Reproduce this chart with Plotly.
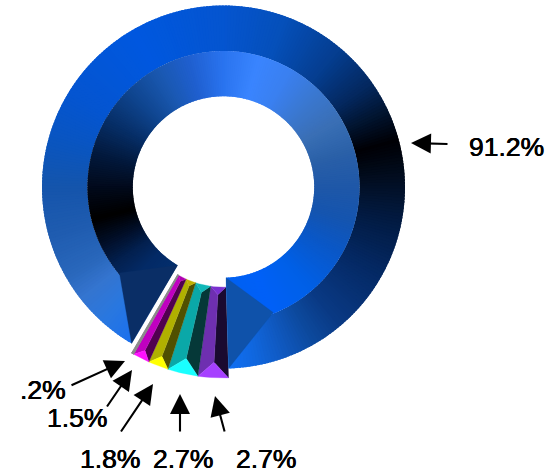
import numpy as np
import plotly.graph_objects as go

# Share of each slice, in clockwise drawing order starting at the main slice's far end
slice_names = ["Purple", "Cyan", "Yellow", "Magenta", "Grey", "Blue"]
slice_shares = [2.7, 2.7, 1.8, 1.5, 0.2, 91.2]

WIDTH, HEIGHT = 558, 474
CX, CY = 223.5, 187.0
R_IN, R_MID, R_OUT = 90.7, 136.0, 181.5
START_ANGLE = 178.4      # clockwise from 12 o'clock
SMALL_SHIFT = 9.5        # small slices are pulled straight down
HIP_ANGLE = 20.0         # inset of the main slice's ridge at each end

# Conic shading of the two bevels of the main slice (angle, colour)
outer_stops = [(210, "#1a70f0"), (222, "#2a78e0"), (232, "#3575d0"), (240, "#2a68bc"),
               (255, "#1f5cb0"), (270, "#1555ac"), (285, "#0a55c0"), (300, "#0555d0"),
               (330, "#0058e0"), (360, "#0555d0"), (380, "#0650ba"), (400, "#053e90"),
               (415, "#04285f"), (425, "#021530"), (435, "#000005"), (445, "#020c1c"),
               (460, "#021a40"), (480, "#052a66"), (500, "#0a3a85"), (510, "#0d4a9e"),
               (520, "#1059c0"), (530, "#1068e0"), (539, "#1070f5")]
inner_stops = [(210, "#03306f"), (225, "#032a66"), (235, "#03204f"), (245, "#020f28"),
               (256, "#000000"), (270, "#020a1c"), (285, "#031a3e"), (300, "#072f68"),
               (315, "#0f458f"), (330, "#1a58b0"), (345, "#2060d0"), (360, "#2a74f0"),
               (375, "#3a85ff"), (390, "#3a80f0"), (405, "#3a78d0"), (420, "#3a6fb5"),
               (435, "#2a60a8"), (450, "#1f58a8"), (465, "#1555b0"), (480, "#0a58c8"),
               (500, "#0060e8"), (519, "#0060f8"), (539, "#0060f0")]
blue_end_faces = {"start": "#0a2e66", "end": "#0f52aa"}

# Roof faces of the small slices: high-angle side, low-angle side, inner end, outer end
small_faces = {
    "Purple": ("#6e2fb0", "#1a0a30", "#7a30d0", "#a640ff"),
    "Cyan": ("#0aa8a8", "#053838", "#10b8b8", "#19ffff"),
    "Yellow": ("#b0b000", "#505000", "#c0b000", "#ffff00"),
    "Magenta": ("#c000c0", "#500050", "#b000b0", "#ff10ff"),
    "Grey": ("#8a8a8a", "#8a8a8a", "#8a8a8a", "#8a8a8a"),
}

# Callout arrows: label value, label centre, tail, head
callouts = [
    (91.2, (506, 147), (449, 144), (411, 143)),
    (0.2, (43, 390), (70, 386), (125, 361)),
    (1.5, (77, 418), (106, 408), (132, 370)),
    (1.8, (110, 459), (120, 433), (153, 384)),
    (2.7, (183, 459), (180, 433), (180, 394)),
    (2.7, (265.5, 459), (225, 433), (215, 396)),
]


def to_xy(theta, r, cy=CY):
    t = np.radians(theta)
    return CX + r * np.sin(t), cy - r * np.cos(t)


def hex_rgb(c):
    return np.array([int(c[i:i + 2], 16) for i in (1, 3, 5)], float)


def shade(stops, theta):
    a = [s[0] for s in stops]
    rgb = np.array([hex_rgb(s[1]) for s in stops])
    v = [np.interp(theta, a, rgb[:, k]) for k in range(3)]
    return "rgb(%d,%d,%d)" % tuple(v)


def polygon(fig, xs, ys, color, lw=0.0):
    fig.add_trace(go.Scatter(
        x=list(xs) + [xs[0]], y=list(ys) + [ys[0]], mode="lines", fill="toself",
        fillcolor=color, line=dict(color=color, width=lw), hoverinfo="skip",
        showlegend=False))


def arc(t0, t1, r, cy=CY, n=6):
    return to_xy(np.linspace(t0, t1, n), r, cy)


def band(fig, t0, t1, r0, r1, stops, step=1.0, overlap=0.7):
    # Steps are painted over each other so no seam shows between neighbours
    edges = np.arange(t0, t1, step).tolist() + [t1]
    for a, b in zip(edges[:-1], edges[1:]):
        far = min(b + overlap, t1)
        x0, y0 = arc(a, far, r0, n=3)
        x1, y1 = arc(far, a, r1, n=3)
        polygon(fig, list(x0) + list(x1), list(y0) + list(y1), shade(stops, (a + b) / 2))


def main_slice(fig, t0, t1):
    band(fig, t0, t1, R_MID, R_OUT, outer_stops)
    band(fig, t0, t1, R_IN, R_MID, inner_stops)
    for end, tip, key in ((t0, t0 + HIP_ANGLE, "start"), (t1, t1 - HIP_ANGLE, "end")):
        x = [to_xy(end, R_IN)[0], to_xy(tip, R_MID - 1)[0], to_xy(end, R_OUT)[0]]
        y = [to_xy(end, R_IN)[1], to_xy(tip, R_MID - 1)[1], to_xy(end, R_OUT)[1]]
        polygon(fig, x, y, blue_end_faces[key], lw=0.3)


def small_slice(fig, t0, t1, faces):
    cy = CY + SMALL_SHIFT
    mid = (t0 + t1) / 2
    half = np.radians((t1 - t0) / 2)
    r_a = R_IN * (1 + half)
    r_b = R_OUT * (1 - half)
    high, low, inner, outer = faces
    # A sliver narrower than a degree gets a stroke so it stays visible
    lw = 1.0 if t1 - t0 < 1 else 0.3
    ax, ay = to_xy(mid, r_a, cy)
    bx, by = to_xy(mid, r_b, cy)
    for edge, color in ((t0, low), (t1, high)):
        ex0, ey0 = to_xy(edge, R_IN, cy)
        ex1, ey1 = to_xy(edge, R_OUT, cy)
        polygon(fig, [ex0, ax, bx, ex1], [ey0, ay, by, ey1], color, lw=lw)
    ix, iy = arc(t0, t1, R_IN, cy)
    polygon(fig, list(ix) + [ax], list(iy) + [ay], inner, lw=lw)
    ox, oy = arc(t0, t1, R_OUT, cy)
    polygon(fig, list(ox) + [bx], list(oy) + [by], outer, lw=lw)


fig = go.Figure()
angle = START_ANGLE
for name, share in zip(slice_names, slice_shares):
    sweep = share * 360 / sum(slice_shares)
    if name == "Blue":
        main_slice(fig, angle, angle + sweep)
    else:
        small_slice(fig, angle, angle + sweep, small_faces[name])
    angle += sweep

for value, (lx, ly), (tx, ty), (hx, hy) in callouts:
    fig.add_annotation(x=hx, y=hy, ax=tx, ay=ty, xref="x", yref="y", axref="x", ayref="y",
                       text="", showarrow=True, arrowhead=2, arrowsize=1.9, arrowwidth=2.1,
                       arrowcolor="#000000", standoff=0)
    fig.add_annotation(x=lx, y=ly, xref="x", yref="y", showarrow=False,
                       text=f"{value}%".removeprefix("0"),
                       font=dict(family="Liberation Sans", size=26.5, color="#000000",
                                 shadow="0.35px 0 0 #000, -0.35px 0 0 #000"))

fig.update_layout(
    width=WIDTH, height=HEIGHT, margin=dict(l=0, r=0, t=0, b=0),
    paper_bgcolor="white", plot_bgcolor="white", showlegend=False,
    xaxis=dict(range=[0, WIDTH], visible=False, fixedrange=True),
    yaxis=dict(range=[HEIGHT, 0], visible=False, fixedrange=True),
)
fig.write_html("out.html", config={"displayModeBar": False})
